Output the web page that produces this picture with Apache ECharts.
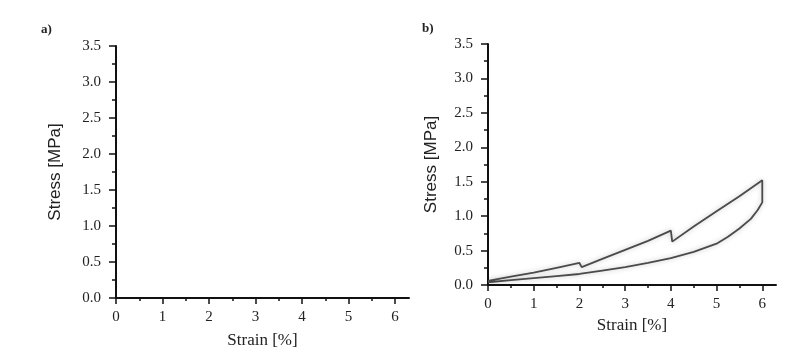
<!DOCTYPE html>
<html><head><meta charset="utf-8">
<script src="https://cdn.jsdelivr.net/npm/echarts@6/dist/echarts.min.js"></script>
<style>html,body{margin:0;padding:0;background:#fff}#c{width:804px;height:362px}</style>
</head><body><div id="c"></div>
<script>
// tick labels
const xTickValues = [0, 1, 2, 3, 4, 5, 6];
const xMinorValues = [0.5, 1.5, 2.5, 3.5, 4.5, 5.5];
const yTickValues = [0, 0.5, 1.0, 1.5, 2.0, 2.5, 3.0, 3.5];
const panelLabels = ['a)', 'b)'];
// panel b: loading – unloading loop (strain %, stress MPa)
const strainB = [0, 0.5, 1, 1.5, 2, 2.05, 2.5, 3, 3.5, 4, 4.03, 4.5, 5, 5.5, 6,
                 6, 5.9, 5.75, 5.5, 5.25, 5, 4.5, 4, 3.5, 3, 2.5, 2, 1.5, 1, 0.5, 0];
const stressB = [0.06, 0.12, 0.18, 0.25, 0.32, 0.26, 0.38, 0.51, 0.64, 0.79, 0.63, 0.85, 1.07, 1.29, 1.52,
                 1.2, 1.09, 0.96, 0.82, 0.70, 0.60, 0.48, 0.39, 0.32, 0.26, 0.21, 0.16, 0.13, 0.10, 0.07, 0.04];

const chart = echarts.init(document.getElementById('c'));
const grids = [
  {left: 116, top: 46, width: 293, height: 252},
  {left: 488, top: 44, width: 288, height: 241}
];
const xNameGap = [34, 29];
const yNameGap = [52, 48];
const xAxes = [], yAxes = [];
grids.forEach((g, i) => {
  xAxes.push({
    gridIndex: i, type: 'value', min: 0, max: 6.3, position: 'bottom',
    axisLine: {show: true, onZero: false, lineStyle: {color: '#111', width: 2}},
    axisTick: {show: true, customValues: xTickValues, length: 6, lineStyle: {color: '#111', width: 1.5}},
    axisLabel: {customValues: xTickValues, margin: 12, fontFamily: 'Liberation Serif', fontSize: 15, color: '#222'},
    splitLine: {show: false},
    name: 'Strain [%]', nameLocation: 'middle', nameGap: xNameGap[i],
    nameTextStyle: {fontFamily: 'Liberation Serif', fontSize: 17, color: '#222'}
  });
  xAxes.push({
    gridIndex: i, type: 'value', min: 0, max: 6.3, position: 'bottom', offset: 0,
    axisLine: {show: false},
    axisTick: {show: true, customValues: xMinorValues, length: 3, lineStyle: {color: '#111', width: 1.5}},
    axisLabel: {show: false}, splitLine: {show: false}
  });
  yAxes.push({
    gridIndex: i, type: 'value', min: 0, max: 3.5, interval: 0.5,
    axisLine: {show: true, onZero: false, lineStyle: {color: '#111', width: 2}},
    axisTick: {show: true, length: 7, lineStyle: {color: '#111', width: 1.5}},
    minorTick: {show: true, splitNumber: 2, length: 4, lineStyle: {color: '#111', width: 1.5}},
    axisLabel: {margin: 15, fontFamily: 'Liberation Serif', fontSize: 15, color: '#222',
      formatter: v => v.toFixed(1)},
    splitLine: {show: false}, minorSplitLine: {show: false},
    name: 'Stress [MPa]', nameLocation: 'middle', nameGap: yNameGap[i], nameRotate: 90,
    nameTextStyle: {fontFamily: 'Liberation Sans', fontSize: 17, color: '#222'}
  });
});

chart.setOption({
  animation: false,
  backgroundColor: '#fff',
  grid: grids,
  xAxis: xAxes,
  yAxis: yAxes,
  graphic: [
    {type: 'text', left: 41, top: 23, style: {text: panelLabels[0], font: 'bold 13px "Liberation Serif"', fill: '#222'}},
    {type: 'text', left: 422, top: 22, style: {text: panelLabels[1], font: 'bold 13px "Liberation Serif"', fill: '#222'}}
  ],
  series: [{
    type: 'line', xAxisIndex: 2, yAxisIndex: 1,
    data: strainB.map((x, k) => [x, stressB[k]]),
    showSymbol: false, smooth: false,
    lineStyle: {color: '#4a4a4a', width: 1.8, shadowBlur: 5, shadowColor: 'rgba(0,0,0,0.25)'}
  }]
});
</script></body></html>
